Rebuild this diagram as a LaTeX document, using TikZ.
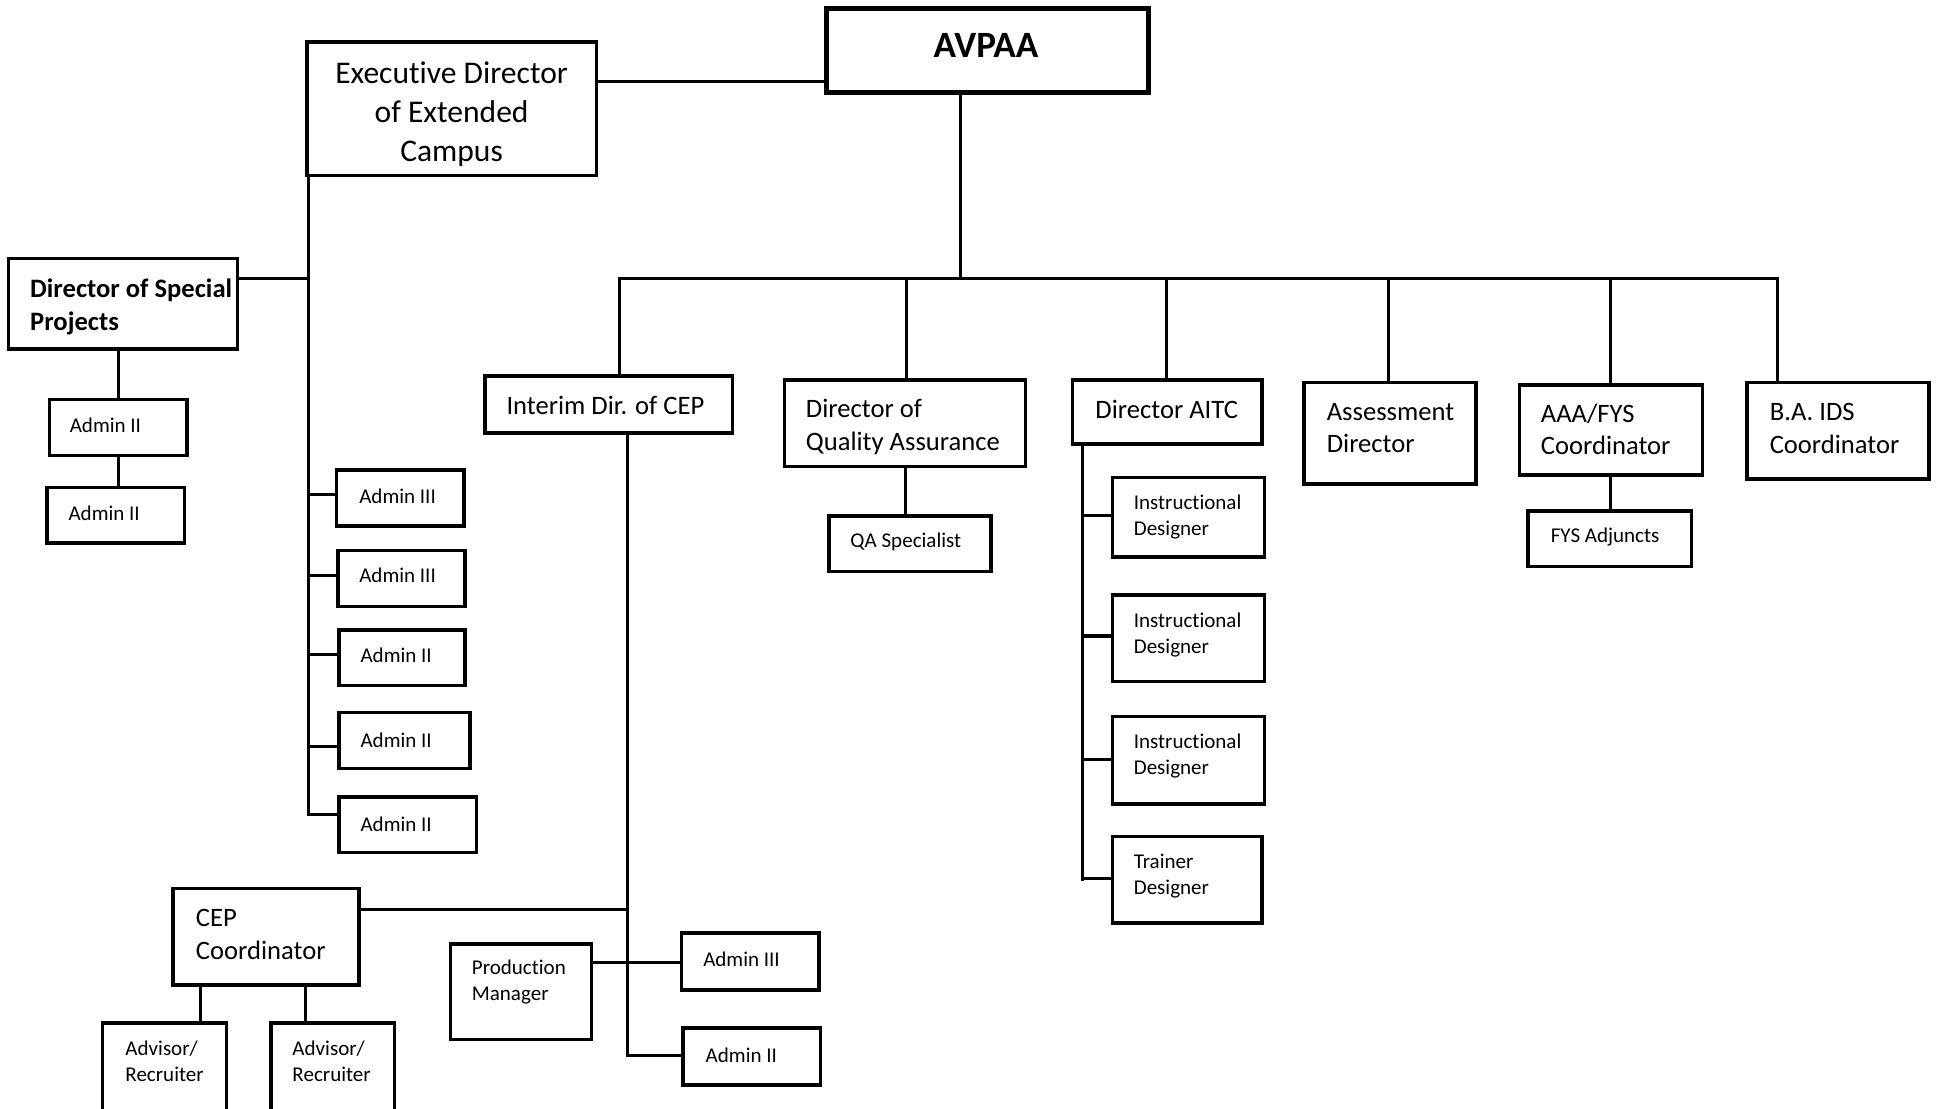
\documentclass[tikz,border=0pt]{standalone}
\usepackage{fontspec}
\setmainfont{Carlito}[Ligatures=NoCommon]
\usetikzlibrary{fit}
\tikzset{
 bx/.style={draw, line width=1.4pt, inner sep=0pt, rectangle},
 topbx/.style={draw, line width=2pt, inner sep=0pt, rectangle},
 ln/.style={line width=1.25pt},
 ts/.style={font=\fontsize{8.5pt}{10.5pt}\selectfont, inner sep=0pt, align=left, anchor=west},
 tm/.style={font=\fontsize{10.75pt}{13.25pt}\selectfont, inner sep=0pt, align=left, anchor=west},
 tmb/.style={font=\bfseries\fontsize{10.75pt}{13.25pt}\selectfont, inner sep=0pt, align=left, anchor=west},
 tl/.style={font=\fontsize{12.75pt}{15.75pt}\selectfont, inner sep=0pt, align=center},
 tx/.style={font=\bfseries\fontsize{15pt}{18pt}\selectfont, inner sep=0pt},
}
\begin{document}
\begin{tikzpicture}[x=0.5pt, y=-0.5pt]
\useasboundingbox (0,0) rectangle (1568,896);
\clip (0,0) rectangle (1568,896);
% boxes
\node[topbx, fit={(668,7) (928,75)}] (avpaa) {};
\node[bx, fit={(248,34) (482,142)}] (exec) {};
\node[bx, fit={(7,209) (192,282)}] (dsp) {};
\node[bx, fit={(40,323) (151,368)}] (spa1) {};
\node[bx, fit={(38,394) (149,439)}] (spa2) {};
\node[bx, fit={(272,380) (375,425)}] (ea1) {};
\node[bx, fit={(273,445) (376,490)}] (ea2) {};
\node[bx, fit={(274,509) (376,554)}] (ea3) {};
\node[bx, fit={(274,576) (380,621)}] (ea4) {};
\node[bx, fit={(274,644) (385,689)}] (ea5) {};
\node[bx, fit={(392,304) (592,350)}] (interim) {};
\node[bx, fit={(634,307) (829,377)}] (qa) {};
\node[bx, fit={(670,417) (801,462)}] (qas) {};
\node[bx, fit={(867,307) (1020,359)}] (aitc) {};
\node[bx, fit={(899,386) (1022,450)}] (id1) {};
\node[bx, fit={(899,481) (1022,551)}] (id2) {};
\node[bx, fit={(899,579) (1022,650)}] (id3) {};
\node[bx, fit={(899,676) (1020,746)}] (trn) {};
\node[bx, fit={(1054,309) (1193,391)}] (assess) {};
\node[bx, fit={(1228,311) (1376,384)}] (aaa) {};
\node[bx, fit={(1235,413) (1367,458)}] (fys) {};
\node[bx, fit={(1412,309) (1559,387)}] (ba) {};
\node[bx, fit={(140,718) (290,796)}] (cepc) {};
\node[bx, fit={(83,827) (183,902)}] (adv1) {};
\node[bx, fit={(219,827) (319,902)}] (adv2) {};
\node[bx, fit={(364,763) (478,840)}] (pm) {};
\node[bx, fit={(551,754) (662,800)}] (cepa1) {};
\node[bx, fit={(552,831) (663,877)}] (cepa2) {};
% texts
\node[tx] (avpaa-t) at (797,37) {AVPAA};
\node[tl] (exec-t) at (365,92) {Executive Director\\of Extended\\Campus};
\node[tmb] (dsp-t) at (24,248) {Director of Special\\Projects};
\node[ts] (spa1-t) at (56,344) {Admin II};
\node[ts] (spa2-t) at (55,415) {Admin II};
\node[ts] (ea1-t) at (290,401) {Admin III};
\node[ts] (ea2-t) at (290,465) {Admin III};
\node[ts] (ea3-t) at (291,530) {Admin II};
\node[ts] (ea4-t) at (291,598) {Admin II};
\node[ts] (ea5-t) at (291,666) {Admin II};
\node[tm] (interim-t) at (409,328) {Interim Dir. of CEP};
\node[tm] (qa-t) at (651,345) {Director of\\Quality Assurance};
\node[ts] (qas-t) at (687,438) {QA Specialist};
\node[tm] (aitc-t) at (885,331) {Director AITC};
\node[ts] (id1-t) at (916,418) {Instructional\\Designer};
\node[ts] (id2-t) at (916,513) {Instructional\\Designer};
\node[ts] (id3-t) at (916,611) {Instructional\\Designer};
\node[ts] (trn-t) at (916,708) {Trainer\\Designer};
\node[tm] (assess-t) at (1072,346) {Assessment\\Director};
\node[tm] (aaa-t) at (1245,347) {AAA/FYS\\Coordinator};
\node[ts] (fys-t) at (1253,434) {FYS Adjuncts};
\node[tm] (ba-t) at (1430,346) {B.A. IDS\\Coordinator};
\node[tm] (cepc-t) at (158,755) {CEP\\Coordinator};
\node[ts] (adv1-t) at (101,858) {Advisor/\\Recruiter};
\node[ts] (adv2-t) at (236,858) {Advisor/\\Recruiter};
\node[ts] (pm-t) at (381,794) {Production\\Manager};
\node[ts] (cepa1-t) at (568,775) {Admin III};
\node[ts] (cepa2-t) at (570,853) {Admin II};
% junction coordinates
\coordinate (hub) at (776,225);
\coordinate (bl) at (501,225);
\coordinate (br) at (1437,225);
\coordinate (ev) at (249,658);
\coordinate (iv) at (507,853);
\coordinate (av) at (875,712);
% connectors
\draw[ln] (exec.east |- 0,66) -- (avpaa.west |- 0,66);
\draw[ln] (avpaa.south -| hub) -- (hub);
\draw[ln] (interim.north -| bl) -- (bl) -- (br) -- (ba.north -| br);
\draw[ln] (733,225) -- (qa.north -| 733,0);
\draw[ln] (943,225) -- (aitc.north -| 943,0);
\draw[ln] (1122,225) -- (assess.north -| 1122,0);
\draw[ln] (1302,225) -- (aaa.north -| 1302,0);
% extended campus
\draw[ln] (exec.south -| ev) -- (ev) -- (ea5.west |- ev);
\draw[ln] (dsp.east |- 0,225) -- (249,225);
\draw[ln] (249,400) -- (ea1.west |- 0,400);
\draw[ln] (249,465) -- (ea2.west |- 0,465);
\draw[ln] (249,529) -- (ea3.west |- 0,529);
\draw[ln] (249,603) -- (ea4.west |- 0,603);
\draw[ln] (dsp.south -| 96,0) -- (spa1.north -| 96,0);
\draw[ln] (spa1.south -| 96,0) -- (spa2.north -| 96,0);
% CEP
\draw[ln] (interim.south -| iv) -- (iv) -- (cepa2.west |- iv);
\draw[ln] (cepc.east |- 0,735) -- (507,735);
\draw[ln] (pm.east |- 0,778) -- (cepa1.west |- 0,778);
\draw[ln] (cepc.south -| 162,0) -- (adv1.north -| 162,0);
\draw[ln] (cepc.south -| 247,0) -- (adv2.north -| 247,0);
% QA
\draw[ln] (qa.south -| 732,0) -- (qas.north -| 732,0);
% AITC
\draw[ln] (aitc.south -| av) -- (av);
\draw[ln] (875,417) -- (id1.west |- 0,417);
\draw[ln] (875,514) -- (id2.west |- 0,514);
\draw[ln] (875,614) -- (id3.west |- 0,614);
\draw[ln] (875,710) -- (trn.west |- 0,710);
% FYS
\draw[ln] (aaa.south -| 1302,0) -- (fys.north -| 1302,0);
\end{tikzpicture}
\end{document}
